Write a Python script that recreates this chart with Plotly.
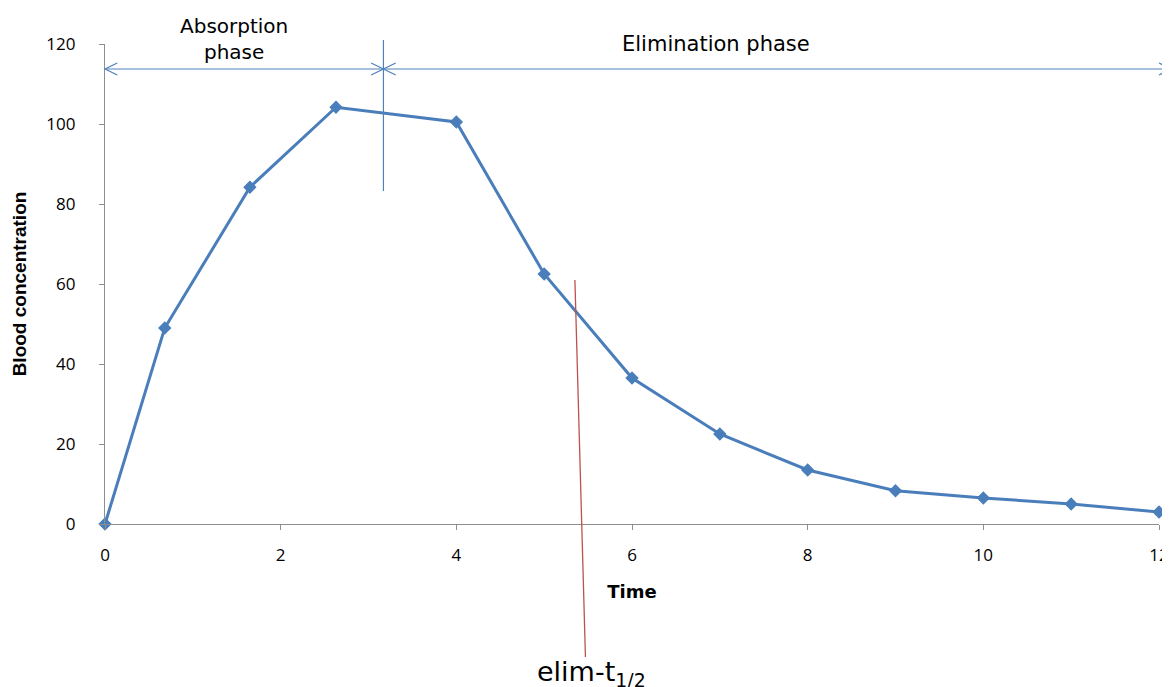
import plotly.graph_objects as go

# Data
time = [0, 0.68, 1.65, 2.63, 4, 5, 6, 7, 8, 9, 10, 11, 12]
conc = [0, 49, 84.2, 104.2, 100.5, 62.5, 36.5, 22.5, 13.5, 8.3, 6.5, 5, 3]

x_ticks = [0, 2, 4, 6, 8, 10, 12]
y_ticks = [0, 20, 40, 60, 80, 100, 120]
x_range = [0, 12]
y_range = [0, 120]

# Annotation geometry (data units)
phase_split = 3.17
arrow_y = 113.75
arrow_end = 12.14
sep_bottom, sep_top = 83.25, 121
red_top = (5.35, 61)
red_bot = (5.47, -33.25)

BLUE = "#4A7EBB"
ARROW_BLUE = "#4F81BD"
RED = "#C0504D"
AXIS_GRAY = "#8E8E8E"


def px(x):
    return (x - x_range[0]) / (x_range[1] - x_range[0])


def py(y):
    return (y - y_range[0]) / (y_range[1] - y_range[0])


fig = go.Figure()
fig.add_trace(go.Scatter(
    x=time, y=conc, mode="lines+markers",
    line=dict(color=BLUE, width=3),
    marker=dict(symbol="diamond", size=9, color=BLUE, line=dict(color=BLUE, width=1.2)),
    cliponaxis=False, showlegend=False,
))

shapes = []
line_style = dict(color=ARROW_BLUE, width=1.2)
shapes.append(dict(type="line", xref="paper", yref="paper",
                   x0=px(0), x1=px(phase_split), y0=py(arrow_y), y1=py(arrow_y), line=line_style))
shapes.append(dict(type="line", xref="paper", yref="paper",
                   x0=px(phase_split), x1=px(arrow_end), y0=py(arrow_y), y1=py(arrow_y), line=line_style))
shapes.append(dict(type="line", xref="paper", yref="paper",
                   x0=px(phase_split), x1=px(phase_split), y0=py(sep_bottom), y1=py(sep_top), line=line_style))

dx = 0.14
dy = 1.5


def chevron(tip, direction):
    xs = tip + direction * dx
    return dict(type="path", xref="paper", yref="paper",
                path=f"M {px(xs)} {py(arrow_y + dy)} L {px(tip)} {py(arrow_y)} L {px(xs)} {py(arrow_y - dy)}",
                line=line_style)


shapes.append(chevron(0, 1))
shapes.append(chevron(phase_split, -1))
shapes.append(chevron(phase_split, 1))
shapes.append(chevron(arrow_end, -1))

shapes.append(dict(type="line", xref="paper", yref="paper",
                   x0=px(red_top[0]), y0=py(red_top[1]), x1=px(red_bot[0]), y1=py(red_bot[1]),
                   line=dict(color=RED, width=1.3)))

annotations = [
    dict(text="Absorption<br>phase", x=px(1.474), y=py(121.25), xref="paper", yref="paper",
         showarrow=False, xanchor="center", yanchor="middle",
         font=dict(family="DejaVu Sans", size=20, color="#000")),
    dict(text="Elimination phase", x=px(6.96), y=py(120), xref="paper", yref="paper",
         showarrow=False, xanchor="center", yanchor="middle",
         font=dict(family="DejaVu Sans", size=21, color="#000")),
    dict(text="elim-t<sub>1/2</sub>", x=px(5.54), y=py(-32.5), xref="paper", yref="paper",
         showarrow=False, xanchor="center", yanchor="top",
         font=dict(family="DejaVu Sans", size=27, color="#000")),
]

fig.update_layout(
    width=1162, height=679,
    margin=dict(l=97, r=11, t=36, b=163, autoexpand=False),
    paper_bgcolor="white", plot_bgcolor="white",
    shapes=shapes, annotations=annotations,
    font=dict(family="Open Sans", size=17, color="#000"),
    xaxis=dict(
        range=x_range, tickvals=x_ticks, showgrid=False, zeroline=False, automargin=False,
        showline=True, linecolor=AXIS_GRAY, linewidth=1.3,
        ticks="outside", ticklen=5, tickcolor=AXIS_GRAY, tickwidth=1.3,
        ticklabelstandoff=10,
        title=dict(text="<b>Time</b>", font=dict(family="DejaVu Sans", size=18), standoff=20),
    ),
    yaxis=dict(
        range=y_range, tickvals=y_ticks, showgrid=False, zeroline=False, automargin=False,
        showline=True, linecolor=AXIS_GRAY, linewidth=1.3,
        ticks="outside", ticklen=5, tickcolor=AXIS_GRAY, tickwidth=1.3,
        ticklabelstandoff=20,
        title=dict(text="<b>Blood concentration</b>", font=dict(family="Liberation Sans", size=19), standoff=14),
    ),
)

fig.write_html("out.html")
